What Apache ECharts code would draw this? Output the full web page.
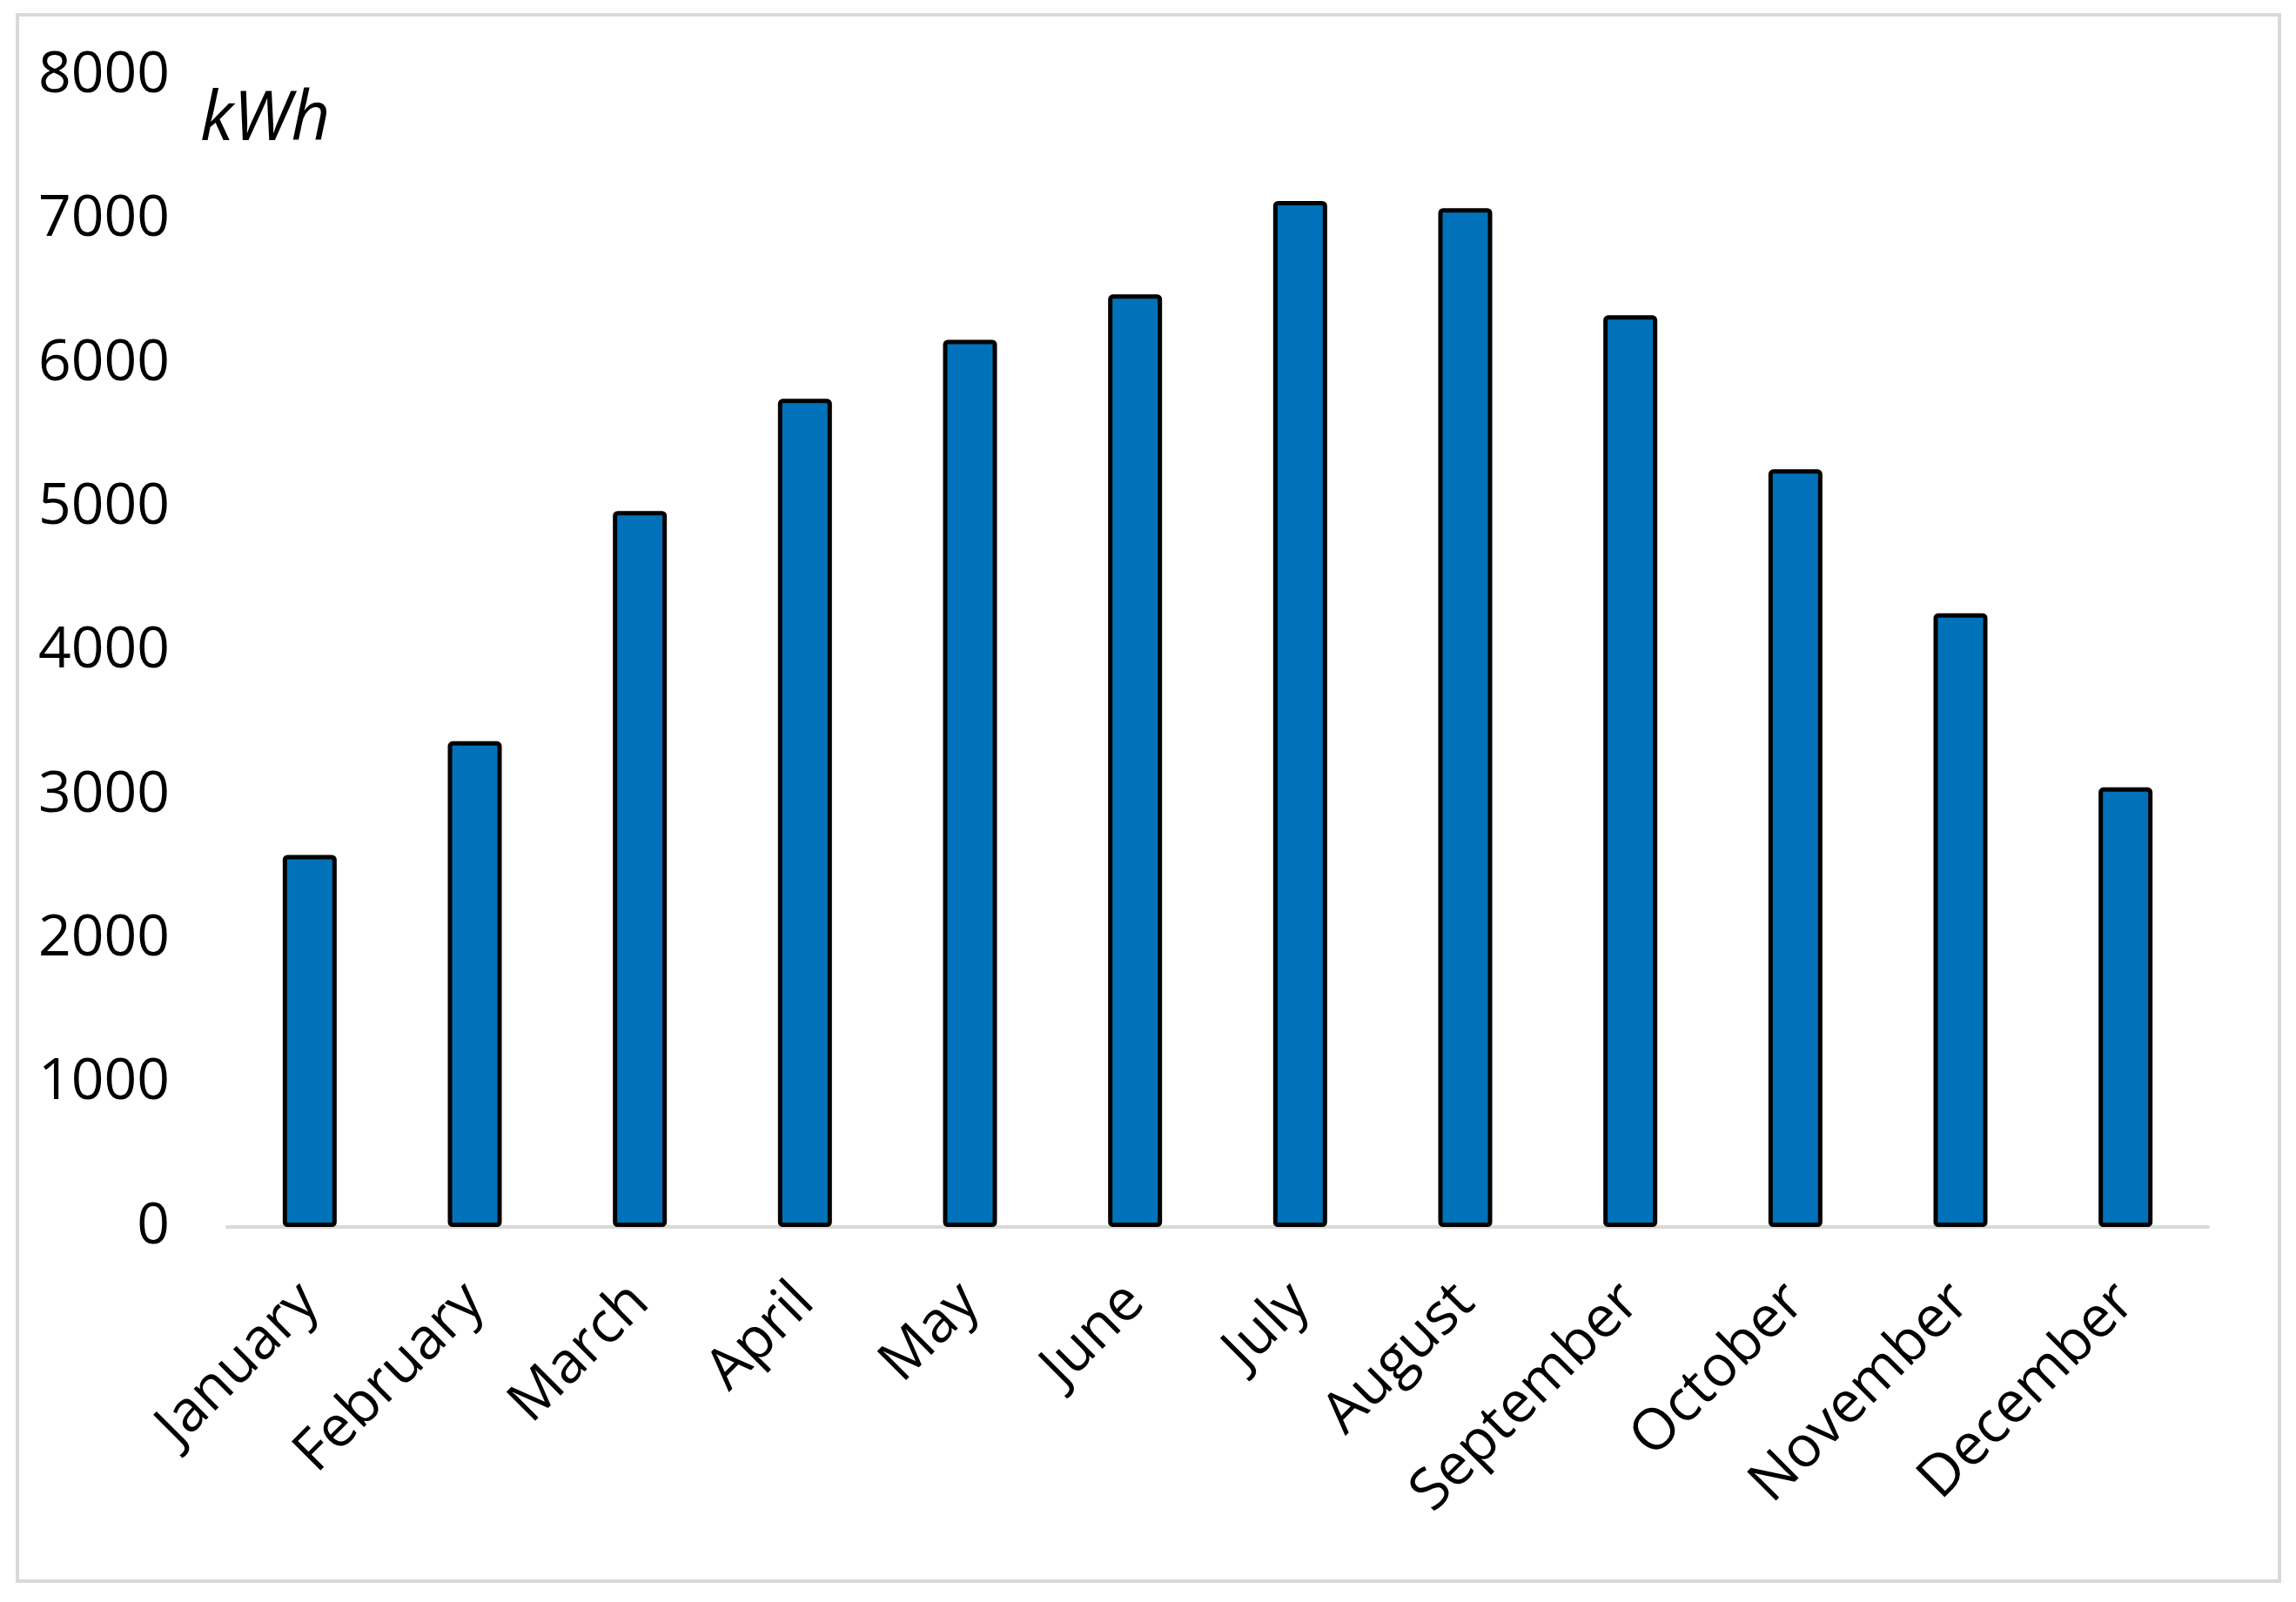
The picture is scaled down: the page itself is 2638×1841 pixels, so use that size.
<!DOCTYPE html>
<html>
<head>
<meta charset="utf-8">
<script src="https://cdn.jsdelivr.net/npm/echarts@6/dist/echarts.min.js"></script>
<style>
html,body{margin:0;padding:0;background:#fff;}
#chart{width:2638px;height:1841px;}
</style>
</head>
<body>
<div id="chart"></div>
<script>
const categories = ['January','February','March','April','May','June','July','August','September','October','November','December'];
const energyKWh = [2585, 3375, 4975, 5755, 6165, 6480, 7130, 7080, 6335, 5265, 4265, 3055];
const yTicks = [0, 1000, 2000, 3000, 4000, 5000, 6000, 7000, 8000];
const unitLabel = 'kWh';

const FONT = '"Open Sans", "Noto Sans", sans-serif';
const chart = echarts.init(document.getElementById('chart'));
chart.setOption({
  backgroundColor: '#ffffff',
  animation: false,
  graphic: [
    {type:'rect', shape:{x:20, y:17, width:2599, height:1800}, style:{fill:'none', stroke:'#d9d9d9', lineWidth:4}, silent:true},
    {type:'text', left:230, top:100, style:{text:unitLabel, font:'italic 78px ' + FONT, fill:'#000'}}
  ],
  grid: {left:261, right:101, top:87, bottom:431, containLabel:false},
  xAxis: {
    type:'category',
    data: categories,
    axisLine:{show:true, lineStyle:{color:'#d9d9d9', width:4}},
    axisTick:{show:false},
    axisLabel:{rotate:45, fontSize:66, fontFamily:FONT, color:'#000', margin:76, interval:0}
  },
  yAxis: {
    type:'value',
    min: yTicks[0],
    max: yTicks[yTicks.length-1],
    interval: 1000,
    axisLine:{show:false},
    axisTick:{show:false},
    splitLine:{show:false},
    axisLabel:{fontSize:66, fontFamily:FONT, color:'#000', margin:66, formatter: v => String(v)}
  },
  series: [{
    type:'bar',
    data: energyKWh,
    barWidth: 62,
    itemStyle:{color:'#0172BA', borderColor:'#000', borderWidth:5, borderRadius:3}
  }]
});
</script>
</body>
</html>
